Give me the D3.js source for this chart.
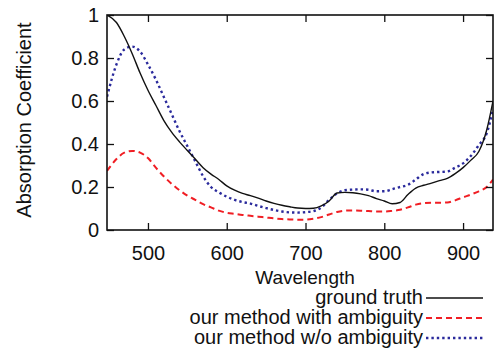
<!DOCTYPE html>
<html>
<head>
<meta charset="utf-8">
<script src="https://cdn.jsdelivr.net/npm/d3@7"></script>
<style>
  body { margin: 0; background: #fff; }
  text { font-family: "Liberation Sans", Arial, sans-serif; fill: #111; }
</style>
</head>
<body>
<div id="chart"></div>
<script>
// wavelength grid (nm) and the three absorption curves
const wavelengths = [448, 460, 470, 480, 490, 500, 510, 520, 530, 540, 550, 560, 570, 580, 590,
  600, 610, 620, 630, 640, 650, 660, 670, 680, 690, 700, 710, 720, 730, 740, 750, 760, 770, 780,
  790, 800, 810, 820, 830, 840, 850, 860, 870, 880, 890, 900, 910, 920, 930, 938];

const groundTruth = [1.00, 0.965, 0.90, 0.82, 0.73, 0.65, 0.58, 0.51, 0.455, 0.41, 0.37, 0.33, 0.29,
  0.26, 0.235, 0.205, 0.185, 0.17, 0.16, 0.148, 0.135, 0.124, 0.115, 0.108, 0.102, 0.100, 0.101,
  0.112, 0.135, 0.172, 0.175, 0.173, 0.168, 0.16, 0.146, 0.135, 0.122, 0.128, 0.165, 0.195, 0.208,
  0.218, 0.23, 0.24, 0.262, 0.29, 0.325, 0.365, 0.465, 0.60];

const withAmbiguity = [0.275, 0.33, 0.36, 0.368, 0.36, 0.335, 0.29, 0.25, 0.215, 0.185, 0.16, 0.14,
  0.12, 0.105, 0.09, 0.08, 0.075, 0.07, 0.066, 0.062, 0.058, 0.054, 0.051, 0.049, 0.048, 0.048,
  0.052, 0.06, 0.072, 0.084, 0.09, 0.091, 0.09, 0.088, 0.086, 0.086, 0.089, 0.094, 0.105, 0.118,
  0.125, 0.127, 0.127, 0.128, 0.138, 0.152, 0.165, 0.18, 0.20, 0.235];

const withoutAmbiguity = [0.62, 0.77, 0.84, 0.853, 0.83, 0.77, 0.70, 0.62, 0.54, 0.46, 0.39, 0.32,
  0.25, 0.20, 0.175, 0.155, 0.14, 0.13, 0.123, 0.112, 0.102, 0.093, 0.086, 0.082, 0.081, 0.083,
  0.088, 0.105, 0.14, 0.17, 0.185, 0.188, 0.189, 0.187, 0.18, 0.18, 0.19, 0.20, 0.21, 0.235, 0.26,
  0.268, 0.27, 0.272, 0.29, 0.31, 0.345, 0.395, 0.45, 0.56];

const xTicks = [500, 600, 700, 800, 900];
const yTicks = [0, 0.2, 0.4, 0.6, 0.8, 1];
const yTickLabels = ["0", "0.2", "0.4", "0.6", "0.8", "1"];

const seriesNames = ["ground truth", "our method with ambiguity", "our method w/o ambiguity"];
const seriesValues = [groundTruth, withAmbiguity, withoutAmbiguity];
const seriesStyles = [
  {color: "#111", width: 1.4, dash: null},
  {color: "#f01e24", width: 2, dash: "6,4"},
  {color: "#2a2a9c", width: 2.4, dash: "2.4,3"}
];

const margin = {top: 15, right: 3, bottom: 119, left: 107};
const width = 496 - margin.left - margin.right;
const height = 349 - margin.top - margin.bottom;

const svg = d3.select("#chart").append("svg")
  .attr("width", 496)
  .attr("height", 349);

const g = svg.append("g")
  .attr("transform", `translate(${margin.left},${margin.top})`);

const x = d3.scaleLinear().domain([448, 938]).range([0, width]);
const y = d3.scaleLinear().domain([0, 1]).range([height, 0]);

// clip lines to the plot frame
svg.append("defs").append("clipPath").attr("id", "plotclip")
  .append("rect").attr("width", width).attr("height", height);

const line = d3.line()
  .x(d => x(d[0]))
  .y(d => y(d[1]))
  .curve(d3.curveMonotoneX);

const plot = g.append("g").attr("clip-path", "url(#plotclip)");

// draw the blue first so black sits on top, like the original
[2, 1, 0].forEach(i => {
  const pts = wavelengths.map((w, k) => [w, seriesValues[i][k]]);
  plot.append("path")
    .datum(pts)
    .attr("fill", "none")
    .attr("stroke", seriesStyles[i].color)
    .attr("stroke-width", seriesStyles[i].width)
    .attr("stroke-dasharray", seriesStyles[i].dash)
    .attr("d", line);
});

// axes: ticks point inward, mirrored on top/right
const tickLen = 7;
const fontSize = 20;

g.append("g")
  .attr("transform", `translate(0,${height})`)
  .call(d3.axisBottom(x).tickValues(xTicks).tickSizeInner(-tickLen).tickSizeOuter(0).tickPadding(16))
  .call(a => a.select(".domain").remove())
  .call(a => a.selectAll("line").attr("stroke", "#111").attr("stroke-width", 1.3))
  .call(a => a.selectAll("text").style("font-size", fontSize + "px").attr("fill", "#111"));

g.append("g")
  .call(d3.axisTop(x).tickValues(xTicks).tickSizeInner(-tickLen).tickSizeOuter(0).tickFormat(""))
  .call(a => a.select(".domain").remove())
  .call(a => a.selectAll("line").attr("stroke", "#111").attr("stroke-width", 1.3));

g.append("g")
  .call(d3.axisLeft(y).tickValues(yTicks).tickSizeInner(-tickLen).tickSizeOuter(0).tickPadding(8)
    .tickFormat((d, i) => yTickLabels[i]))
  .call(a => a.select(".domain").remove())
  .call(a => a.selectAll("line").attr("stroke", "#111").attr("stroke-width", 1.3))
  .call(a => a.selectAll("text").style("font-size", fontSize + "px").attr("fill", "#111"));

g.append("g")
  .attr("transform", `translate(${width},0)`)
  .call(d3.axisRight(y).tickValues(yTicks).tickSizeInner(-tickLen).tickSizeOuter(0).tickFormat(""))
  .call(a => a.select(".domain").remove())
  .call(a => a.selectAll("line").attr("stroke", "#111").attr("stroke-width", 1.3));

// frame
g.append("rect")
  .attr("width", width)
  .attr("height", height)
  .attr("fill", "none")
  .attr("stroke", "#111")
  .attr("stroke-width", 1.6);

// axis labels
svg.append("text")
  .attr("x", 305)
  .attr("y", 284)
  .attr("text-anchor", "middle")
  .style("font-size", "19px")
  .text("Wavelength");

svg.append("text")
  .attr("transform", "rotate(-90)")
  .attr("x", -120)
  .attr("y", 31)
  .attr("text-anchor", "middle")
  .style("font-size", fontSize + "px")
  .text("Absorption Coefficient");

// legend, gnuplot style: right-justified text, sample line to the right
const legend = svg.append("g");
seriesNames.forEach((name, i) => {
  const yy = 304 + i * 20;
  legend.append("text")
    .attr("x", 423)
    .attr("y", yy)
    .attr("text-anchor", "end")
    .style("font-size", fontSize + "px")
    .text(name);
  legend.append("line")
    .attr("x1", 426)
    .attr("x2", 483)
    .attr("y1", yy - 6)
    .attr("y2", yy - 6)
    .attr("stroke", seriesStyles[i].color)
    .attr("stroke-width", seriesStyles[i].width)
    .attr("stroke-dasharray", seriesStyles[i].dash);
});
</script>
</body>
</html>
